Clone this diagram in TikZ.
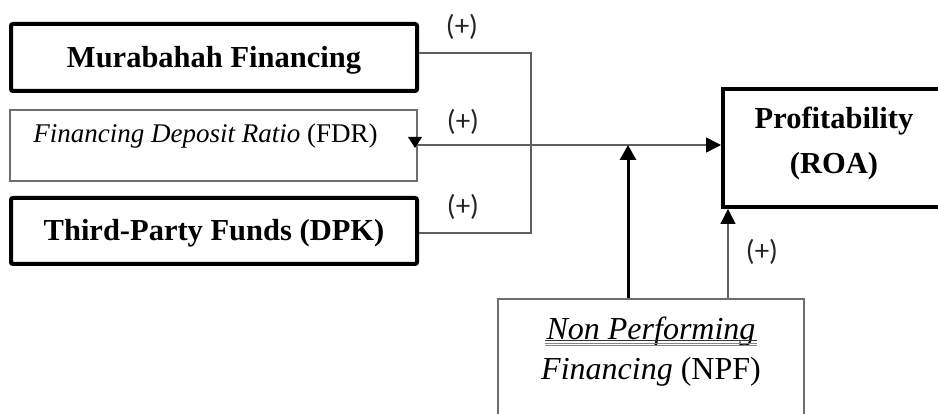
\documentclass[tikz,border=0pt]{standalone}
\usepackage{fontspec}
\setmainfont{Liberation Serif}
\newfontfamily\plusfont{Carlito}
\usetikzlibrary{arrows.meta}
\definecolor{linegray}{RGB}{95,95,95}
\definecolor{boxgray}{RGB}{110,110,110}
\definecolor{wordblue}{RGB}{95,135,225}
\begin{document}
\begin{tikzpicture}[x=1pt,y=-1pt,
  boldbox/.style={draw=black,line width=4pt,rounded corners=2pt,inner sep=0pt,
    font=\fontsize{30.5}{36}\selectfont\bfseries,text height=20pt,text depth=0pt},
  thinbox/.style={draw=boxgray,line width=1.5pt,inner sep=0pt},
  conn/.style={draw=linegray,line width=1.5pt},
  arr/.style={-{Triangle[length=15pt,width=15pt,color=black]}},
  pluslabel/.style={font=\plusfont\fontsize{29}{32}\selectfont,text=black!85,inner sep=0pt}]
\useasboundingbox (0,0) rectangle (938,414);
\clip (0,0) rectangle (938,414);
\fill[white] (0,0) rectangle (938,414);

% boxes
\node[boldbox,minimum width=406pt,minimum height=67pt] (mur) at (214,57.5) {Murabahah Financing};
\node[thinbox,minimum width=407pt,minimum height=71pt,font=\fontsize{27}{32}\selectfont,
      text height=0pt,text depth=5pt] (fdr) at (213.5,145.5) {\textit{Financing Deposit Ratio} (FDR)\kern16pt};
\node[boldbox,minimum width=406pt,minimum height=66pt] (dpk) at (214,231) {Third-Party Funds (DPK)};
\node[boldbox,rounded corners=0pt,minimum width=222pt,minimum height=118pt,
      font=\fontsize{30.5}{45}\selectfont\bfseries,text height=0pt,text depth=0pt] (roa) at (834,148)
      {\begin{tabular}{@{}c@{}}Profitability\\(ROA)\end{tabular}};
\node[thinbox,minimum width=306pt,minimum height=118pt,font=\fontsize{32}{40}\selectfont,
      text height=0pt,text depth=0pt] (npf) at (651,358)
      {\begin{tabular}{@{}c@{}}\textit{Non Performing}\\\textit{Financing} (NPF)\end{tabular}};

% underline marks under "Non Performing"
\draw[black!80,line width=0.8pt] (545,340.5) -- (757,340.5);
\draw[wordblue,line width=1.2pt] (545,343.5) -- (757,343.5);
\draw[wordblue,line width=1.0pt] (545,346) -- (757,346);

% connectors
\coordinate (bt) at (531,53);
\coordinate (bb) at (531,233);
\draw[conn] (mur.east |- bt) -- (bt) -- (bb) -- (dpk.east |- bb);
\coordinate (ml) at (0,145);
\draw[conn,arr] (fdr.east |- ml) -- (roa.west |- ml);
\fill[black] (408,137) -- (422,137) -- (415,148) -- cycle;
\coordinate (jn) at (628,145);
\draw[black,line width=3pt,-{Triangle[length=15pt,width=16pt]}] (npf.north -| jn) -- (jn);
\coordinate (tx) at (728,0);
\draw[conn,arr] (npf.north -| tx) -- (roa.south -| tx);

% labels
\node[pluslabel] (p1) at (462,27) {(+)};
\node[pluslabel] (p2) at (463,122) {(+)};
\node[pluslabel] (p3) at (463,207) {(+)};
\node[pluslabel] (p4) at (762,252) {(+)};
\end{tikzpicture}
\end{document}
